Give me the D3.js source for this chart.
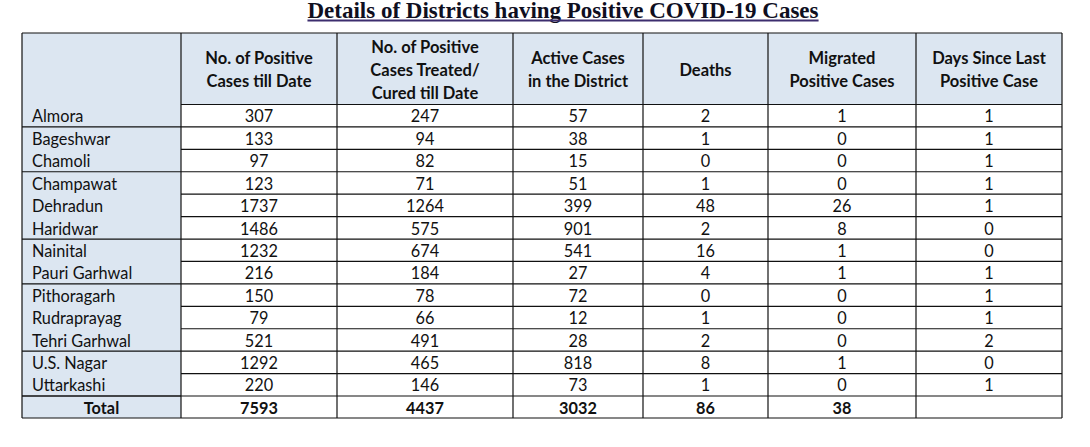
<!DOCTYPE html>
<html><head><meta charset="utf-8">
<script src="https://cdn.jsdelivr.net/npm/d3@7"></script>
<style>body{margin:0;background:#fff;}svg{display:block;}</style>
</head><body>
<svg id="c" width="1090" height="447"></svg>
<script>
const title = "Details of Districts having Positive COVID-19 Cases";
const headers = [
  [],
  ["No. of Positive", "Cases till Date"],
  ["No. of Positive", "Cases Treated/", "Cured till Date"],
  ["Active Cases", "in the District"],
  ["Deaths"],
  ["Migrated", "Positive Cases"],
  ["Days Since Last", "Positive Case"]
];
const districts = ["Almora","Bageshwar","Chamoli","Champawat","Dehradun","Haridwar","Nainital","Pauri Garhwal","Pithoragarh","Rudraprayag","Tehri Garhwal","U.S. Nagar","Uttarkashi"];
const positive = [307,133,97,123,1737,1486,1232,216,150,79,521,1292,220];
const cured = [247,94,82,71,1264,575,674,184,78,66,491,465,146];
const active = [57,38,15,51,399,901,541,27,72,12,28,818,73];
const deaths = [2,1,0,1,48,2,16,4,0,1,2,8,1];
const migrated = [1,0,0,0,26,8,1,1,0,0,0,1,0];
const daysSince = [1,1,1,1,1,0,0,1,1,1,2,0,1];
const totals = ["Total", 7593, 4437, 3032, 86, 38, ""];
const groupEnds = [0,2,5,7,10,12]; // district rows after which the first column shows a rule

const svg = d3.select("#c");
const colEdges = [22,181,337,513,643,768,916,1062];
const headTop = 33, headBot = 104.5, bodyBot = 396, totBot = 418;
const font = "Lato, 'Open Sans', sans-serif";

const rows = districts.map((d,i)=>[d,positive[i],cured[i],active[i],deaths[i],migrated[i],daysSince[i]]);
const y = d3.scaleBand().domain(d3.range(rows.length)).range([headBot, bodyBot]);
const cx = i => (colEdges[i]+colEdges[i+1])/2;

// title
const t = svg.append("text").attr("x", 563).attr("y", 17.5).attr("text-anchor","middle")
  .attr("font-family","'Liberation Serif', 'Times New Roman', serif").attr("font-weight","bold")
  .attr("font-size", 23).attr("fill","#0f0f1f").text(title);
const bb = t.node().getBBox();
svg.append("rect").attr("x", bb.x).attr("y", 19.5).attr("width", bb.width).attr("height", 2).attr("fill","#3c2d6e");

// backgrounds
svg.append("rect").attr("x",colEdges[0]).attr("y",headTop).attr("width",colEdges[7]-colEdges[0]).attr("height",headBot-headTop).attr("fill","#dce6f1");
svg.append("rect").attr("x",colEdges[0]).attr("y",headTop).attr("width",colEdges[1]-colEdges[0]).attr("height",totBot-headTop).attr("fill","#dce6f1");

// header text
headers.forEach((h,i)=>{
  const n = h.length, lh = 23, mid = (headTop+headBot)/2 + 1;
  h.forEach((s,j)=>{
    svg.append("text").attr("x",cx(i)).attr("y", mid + (j-(n-1)/2)*lh).attr("dy","0.35em")
      .attr("text-anchor","middle").attr("font-family",font).attr("font-weight","bold")
      .attr("font-size",16.5).attr("fill","#111").text(s);
  });
});

// body text
rows.forEach((r,i)=>{
  r.forEach((v,j)=>{
    svg.append("text").attr("x", j===0 ? colEdges[0]+10 : cx(j)).attr("y", y(i)+y.bandwidth()/2+1).attr("dy","0.35em")
      .attr("text-anchor", j===0 ? "start":"middle").attr("font-family",font)
      .attr("font-size",16.3).attr("fill","#111").text(v);
  });
});
totals.forEach((v,j)=>{
  svg.append("text").attr("x", cx(j)).attr("y",(bodyBot+totBot)/2+1).attr("dy","0.35em")
    .attr("text-anchor","middle").attr("font-family",font).attr("font-weight","bold")
    .attr("font-size",16.3).attr("fill","#111").text(v);
});

// grid lines
const line = (x1,y1,x2,y2)=>svg.append("line").attr("x1",x1).attr("y1",y1).attr("x2",x2).attr("y2",y2)
  .attr("stroke","#111").attr("stroke-width",1.2);
colEdges.forEach(x=>line(x,headTop,x,totBot));
line(colEdges[0],headTop,colEdges[7],headTop);
line(colEdges[1],headBot,colEdges[7],headBot);
rows.forEach((r,i)=>{
  const yy = y(i)+y.bandwidth();
  if (i < rows.length-1) line(colEdges[1],yy,colEdges[7],yy);
  if (groupEnds.includes(i)) line(colEdges[0],yy,colEdges[1],yy);
});
line(colEdges[0],bodyBot,colEdges[7],bodyBot);
line(colEdges[0],totBot,colEdges[7],totBot);
</script>
</body></html>
